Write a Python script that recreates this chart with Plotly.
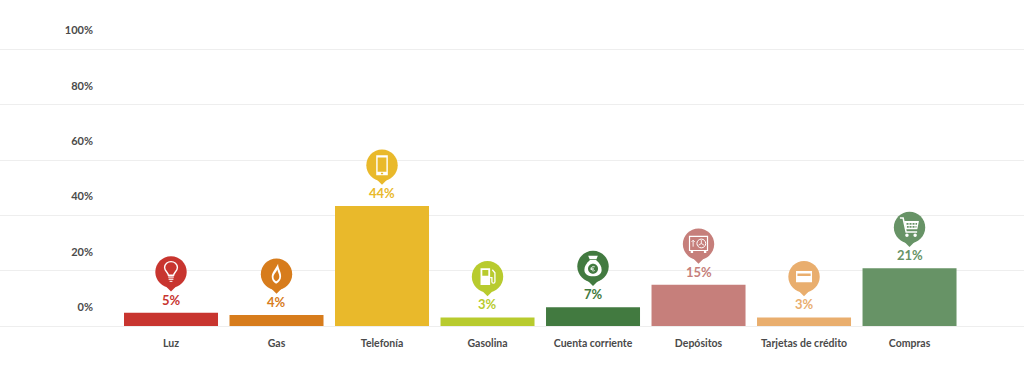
import plotly.graph_objects as go

categories = ["Luz", "Gas", "Telefonía", "Gasolina", "Cuenta corriente", "Depósitos", "Tarjetas de crédito", "Compras"]
bar_values = [4.8, 4.0, 43.4, 3.1, 6.8, 14.9, 3.1, 20.9]
value_labels = ["5%", "4%", "44%", "3%", "7%", "15%", "3%", "21%"]
colors = ["#C8352F", "#D77C1C", "#E9B92B", "#B8CB2E", "#427A40", "#C67F7B", "#E9AE6E", "#679366"]
y_ticks = [0, 20, 40, 60, 80, 100]
y_tick_labels = ["0%", "20%", "40%", "60%", "80%", "100%"]

FONT = "Lato, 'Open Sans', sans-serif"
PIN_CY = 40.7
PIN_R = 15.7
WHITE = "#FFFFFF"
TEXT = "#4A4A4A"


def circ(cx, cy, r):
    k = 0.5523 * r
    return (f"M{cx-r},{cy} C{cx-r},{cy+k} {cx-k},{cy+r} {cx},{cy+r} "
            f"C{cx+k},{cy+r} {cx+r},{cy+k} {cx+r},{cy} "
            f"C{cx+r},{cy-k} {cx+k},{cy-r} {cx},{cy-r} "
            f"C{cx-k},{cy-r} {cx-r},{cy-k} {cx-r},{cy} Z")


def rect(x0, y0, x1, y1):
    return f"M{x0},{y0} L{x1},{y0} L{x1},{y1} L{x0},{y1} Z"


# Icon layers: (path, fill, stroke, stroke width); BG means the pin colour.
ICONS = {
    "Luz": [
        ("M-2.6,-3.2 C-2.8,-0.5 -6.4,1 -6.4,4.6 C-6.4,8.2 -3.4,10.4 0,10.4 C3.4,10.4 6.4,8.2 6.4,4.6 "
         "C6.4,1 2.8,-0.5 2.6,-3.2 Z", None, WHITE, 1.4),
        (rect(-2.8, -5.6, 2.8, -4.4), WHITE, None, 0),
        (rect(-2.4, -7.8, 2.4, -6.6), WHITE, None, 0),
        (rect(-1.4, -9.8, 1.4, -8.8), WHITE, None, 0),
    ],
    "Gas": [
        ("M1.6,10.4 C1.4,6 4.6,3 4.6,-2 C4.6,-5.6 2.4,-8.2 -0.4,-9.4 C-3,-8.4 -4.8,-6 -4.8,-2.6 "
         "C-4.8,1.8 -1.2,4.6 1.6,10.4 Z "
         "M0.8,5 C0.2,2.2 -3,0.2 -3,-2.8 C-3,-4.8 -1.8,-6.2 -0.4,-7 C1.4,-6 2.8,-4.4 2.8,-2.4 "
         "C2.8,0 1.2,2.4 0.8,5 Z", WHITE, None, 0),
    ],
    "Telefonía": [
        (rect(-5.8, -10, 5.8, 10) + " " + rect(-4.4, -6.6, 4.4, 7.8) + " " + rect(-1.1, -9, 1.1, -7.6), WHITE, None, 0),
    ],
    "Gasolina": [
        (rect(-7, -8.4, 2.6, 8.4) + " " + rect(-5.2, 1, 0.8, 6.6), WHITE, None, 0),
        ("M2.6,-1 L4.4,-1 L4.4,-5 C4.4,-7 7.4,-7 7.4,-5 L7.4,4 L4.8,7", None, WHITE, 1.3),
    ],
    "Cuenta corriente": [
        ("M-3,6.4 C-7,3 -8.6,0 -8.6,-3.4 C-8.6,-7.6 -5,-9.8 0,-9.8 C5,-9.8 8.6,-7.6 8.6,-3.4 "
         "C8.6,0 7,3 3,6.4 Z", WHITE, None, 0),
        ("M-3.4,7.2 L3.4,7.2 L4.8,10.8 L-4.8,10.8 Z", WHITE, None, 0),
        (circ(0, -2.2, 5), "BG", None, 0),
        ("M1.8,-0.4 C0.4,0.6 -1.6,0 -1.6,-2.2 C-1.6,-4.4 0.4,-5 1.8,-4 M-2.6,-1.7 L0.8,-1.7 M-2.6,-2.8 L0.8,-2.8", None, WHITE, 0.8),
    ],
    "Depósitos": [
        (rect(-9.6, -7, 9.6, 8.4) + " " + rect(-8.4, -5.8, 8.4, 7.2), WHITE, None, 0),
        (rect(-7.8, -9, -5.4, -7) + " " + rect(5.4, -9, 7.8, -7), WHITE, None, 0),
        (circ(2.8, 0.6, 4.4), None, WHITE, 1.0),
        ("M2.8,0.6 L2.8,4 M2.8,0.6 L0,-1.2 M2.8,0.6 L5.6,-1.2", None, WHITE, 0.9),
        ("M-5.4,-2.6 L-5.4,3.8 M-7,2.2 L-5.4,3.8 L-3.8,2.2", None, WHITE, 0.9),
    ],
    "Tarjetas de crédito": [
        (rect(-8, -5.6, 8, 5.6) + " " + rect(-6.6, 0.6, 6.6, 3.2), WHITE, None, 0),
    ],
    "Compras": [
        ("M-9.6,9.4 L-6.4,9.4 L-3.4,-4.4 L7.6,-4.4", None, WHITE, 1.5),
        ("M-5.4,6.6 L9.4,6.6 L7.8,-1.8 L-3.8,-1.8 Z M-3,4.6 L-1,4.6 L-1,2.8 L-3,2.8 Z M0,4.6 L2,4.6 L2,2.8 L0,2.8 Z "
         "M3,4.6 L5,4.6 L5,2.8 L3,2.8 Z M6,4.6 L7.6,4.6 L7.4,2.8 L6,2.8 Z M-2.6,1.6 L-0.8,1.6 L-0.8,-0.2 L-2.6,-0.2 Z "
         "M0,1.6 L2,1.6 L2,-0.2 L0,-0.2 Z M3,1.6 L5,1.6 L5,-0.2 L3,-0.2 Z M6,1.6 L7,1.6 L6.8,-0.2 L6,-0.2 Z", WHITE, None, 0),
        (circ(-2.6, -7.8, 1.7), WHITE, None, 0),
        (circ(5.6, -7.8, 1.7), WHITE, None, 0),
    ],
}


def shift_path(path, dy):
    """Move an icon path, written around the pin centre, up by dy pixels."""
    out = []
    for tok in path.split():
        cmd = tok[0] if tok[0].isalpha() else ""
        body = tok[1:] if cmd else tok
        if cmd == "Z" or body == "":
            out.append(tok)
            continue
        x, y = body.split(",")
        out.append(f"{cmd}{x},{float(y) + dy:.2f}")
    return " ".join(out)


shapes = []
for cat, val, col in zip(categories, bar_values, colors):
    base = dict(type="path", xref="x", yref="y", xsizemode="pixel", ysizemode="pixel",
                xanchor=categories.index(cat), yanchor=val, layer="above")
    pin = circ(0, 0, PIN_R)
    shapes.append(dict(base, path=shift_path(pin, PIN_CY), fillcolor=col, line=dict(width=0)))
    shapes.append(dict(base, path=f"M-5,{PIN_CY-14.6} L5,{PIN_CY-14.6} L0,{PIN_CY-19.6} Z",
                       fillcolor=col, line=dict(width=0)))
    for path, fill, stroke, sw in ICONS[cat]:
        fc = col if fill == "BG" else (fill or "rgba(0,0,0,0)")
        shapes.append(dict(base, path=shift_path(path, PIN_CY), fillcolor=fc,
                           line=dict(color=stroke or "rgba(0,0,0,0)", width=sw)))

fig = go.Figure(go.Bar(x=categories, y=bar_values, marker=dict(color=colors, line=dict(width=0)),
                       hoverinfo="skip"))

annotations = [
    dict(x=cat, y=val, text=f"<b>{lab}</b>", showarrow=False, yshift=13, xanchor="center", yanchor="middle",
         font=dict(family=FONT, size=13, color=col))
    for cat, val, lab, col in zip(categories, bar_values, value_labels, colors)
]

fig.update_layout(
    width=1024, height=366, margin=dict(l=0, r=0, t=0, b=40, pad=0),
    paper_bgcolor="#FFFFFF", plot_bgcolor="#FFFFFF", showlegend=False, bargap=0.109,
    shapes=shapes, annotations=annotations,
    font=dict(family=FONT, color=TEXT),
)
fig.update_xaxes(type="category", categoryorder="array", categoryarray=categories,
                 range=[-1.6209, 8.085], showgrid=False, zeroline=False, showline=True,
                 linecolor="#EEEEEE", linewidth=1, ticks="",
                 tickfont=dict(family=FONT, size=10.5, color=TEXT, weight="bold"), ticklabelstandoff=7)
fig.update_yaxes(range=[0, 117.84], tickvals=y_ticks, ticktext=y_tick_labels, showgrid=True, gridcolor="#EEEEEE",
                 gridwidth=1, zeroline=False, showline=False, ticks="", anchor="free", position=0.0908,
                 side="left", ticklabelshift=-19, automargin=False,
                 tickfont=dict(family=FONT, size=11, color=TEXT, weight="bold"))

fig.write_html("out.html", config=dict(displayModeBar=False),
               post_script="document.body.style.margin='0';document.documentElement.style.overflow='hidden';")
